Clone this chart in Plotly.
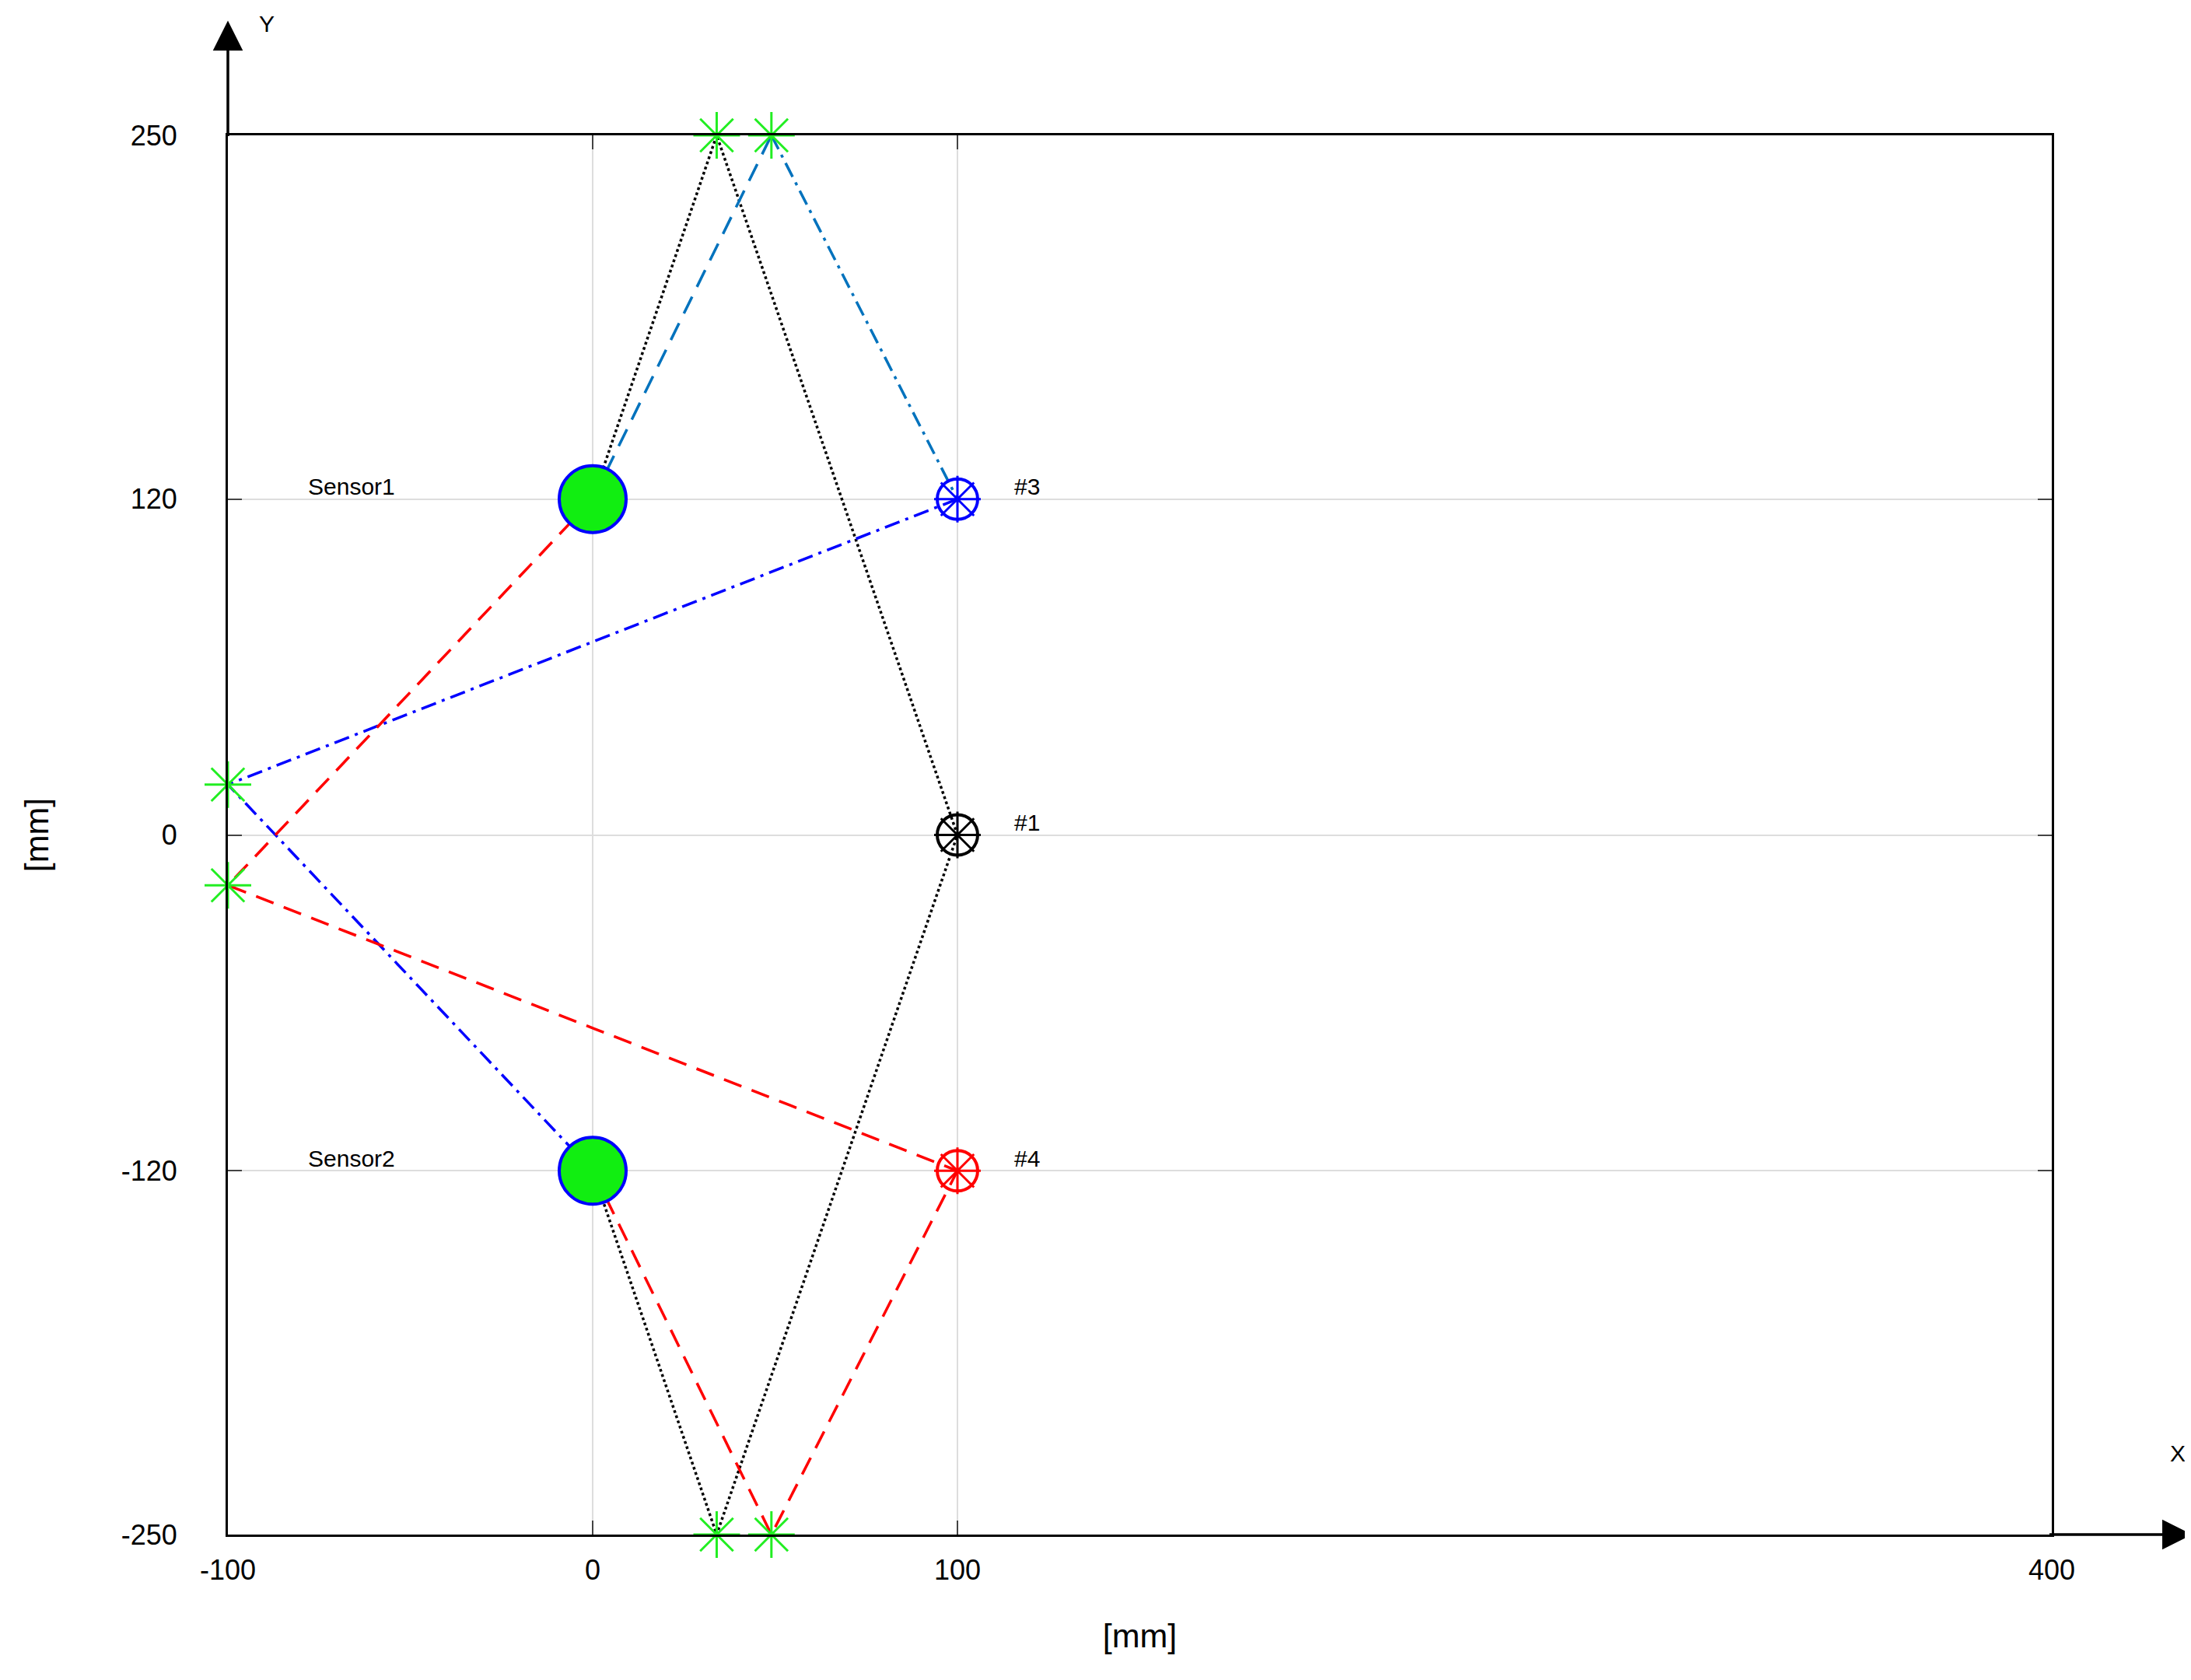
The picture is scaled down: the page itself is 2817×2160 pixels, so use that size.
import plotly.graph_objects as go

sensors_x = [0, 0]
sensors_y = [120, -120]
sensor_names = ["Sensor1", "Sensor2"]
targets_x = [100, 100, 100]
targets_y = [120, 0, -120]
target_names = ["#3", "#1", "#4"]
target_colors = ["blue", "black", "red"]
refl_x = [34, 49, 34, 49, -100, -100]
refl_y = [250, 250, -250, -250, 18, -18]
xtick_vals = [-100, 0, 100, 400]
xtick_text = ["-100", "0", "100", "400"]
ytick_vals = [-250, -120, 0, 120, 250]
ytick_text = ["-250", "-120", "0", "120", "250"]

paths = [
    ([0, 34, 100, 34, 0], [120, 250, 0, -250, -120], "black", "dot"),
    ([0, 49], [120, 250], "#0072BD", "24px,14px"),
    ([49, 100], [250, 120], "#0072BD", "20px,8px,4px,8px"),
    ([100, -100, 0], [120, 18, -120], "blue", "20px,8px,4px,8px"),
    ([0, -100, 100], [120, -18, -120], "red", "24px,14px"),
    ([0, 49, 100], [-120, -250, -120], "red", "24px,14px"),
]

fig = go.Figure()
for xs, ys, c, d in paths:
    fig.add_trace(go.Scatter(x=xs, y=ys, mode="lines", line=dict(color=c, width=3.5, dash=d),
                             hoverinfo="skip", cliponaxis=False))
fig.add_trace(go.Scatter(x=refl_x, y=refl_y, mode="markers", cliponaxis=False,
                         marker=dict(symbol="asterisk-open", size=50, color="#22ee22",
                                     line=dict(color="#22ee22", width=3))))
fig.add_trace(go.Scatter(x=sensors_x, y=sensors_y, mode="markers", cliponaxis=False,
                         marker=dict(symbol="circle", size=86, color="#11ee11", line=dict(color="blue", width=4))))
fig.add_trace(go.Scatter(x=targets_x, y=targets_y, mode="markers", cliponaxis=False,
                         marker=dict(symbol="circle-open", size=52, color=target_colors,
                                     line=dict(color=target_colors, width=4))))
fig.add_trace(go.Scatter(x=targets_x, y=targets_y, mode="markers", cliponaxis=False,
                         marker=dict(symbol="asterisk-open", size=50, color=target_colors,
                                     line=dict(color=target_colors, width=3))))

for n, yv in zip(sensor_names, sensors_y):
    fig.add_annotation(x=-66, y=yv, text=n, showarrow=False, yshift=16, font=dict(size=30))
for n, yv in zip(target_names, targets_y):
    fig.add_annotation(x=119, y=yv, text=n, showarrow=False, yshift=16, font=dict(size=30))

fig.add_annotation(x=-100, xref="x", y=1.082, yref="paper", ax=0, ay=150, axref="pixel", ayref="pixel",
                   showarrow=True, arrowhead=2, arrowsize=2.2, arrowwidth=3.5, arrowcolor="black", text="")
fig.add_annotation(x=1.077, xref="paper", y=-250, yref="y", ax=-185, ay=0, showarrow=True,
                   arrowhead=2, arrowsize=2.2, arrowwidth=3.5, arrowcolor="black", text="")
fig.add_annotation(x=-100, xref="x", y=1.09, yref="paper", text="Y", showarrow=False, xshift=50,
                   font=dict(size=30))
fig.add_annotation(x=1.074, xref="paper", y=-250, yref="y", text="X", showarrow=False, yshift=105,
                   font=dict(size=30))

fig.update_layout(
    width=2817, height=2160, plot_bgcolor="white", paper_bgcolor="white", showlegend=False,
    margin=dict(l=285, r=187, t=166, b=195),
    font=dict(family="Liberation Sans, Arial", size=36, color="black"),
    xaxis=dict(range=[-100, 400], tickvals=xtick_vals, ticktext=xtick_text, showgrid=True, gridcolor="#dddddd",
               gridwidth=2, zeroline=False, showline=True, linecolor="black", linewidth=3, mirror="ticks",
               ticks="inside", ticklen=18, tickwidth=2, ticklabelstandoff=12,
               title=dict(text="[mm]", standoff=50)),
    yaxis=dict(range=[-250, 250], tickvals=ytick_vals, ticktext=ytick_text, showgrid=True, gridcolor="#dddddd",
               gridwidth=2, zeroline=False, showline=True, linecolor="black", linewidth=3, mirror="ticks",
               ticks="inside", ticklen=18, tickwidth=2, ticklabelstandoff=55,
               title=dict(text="[mm]", standoff=80)),
)
fig.write_html("out.html")
